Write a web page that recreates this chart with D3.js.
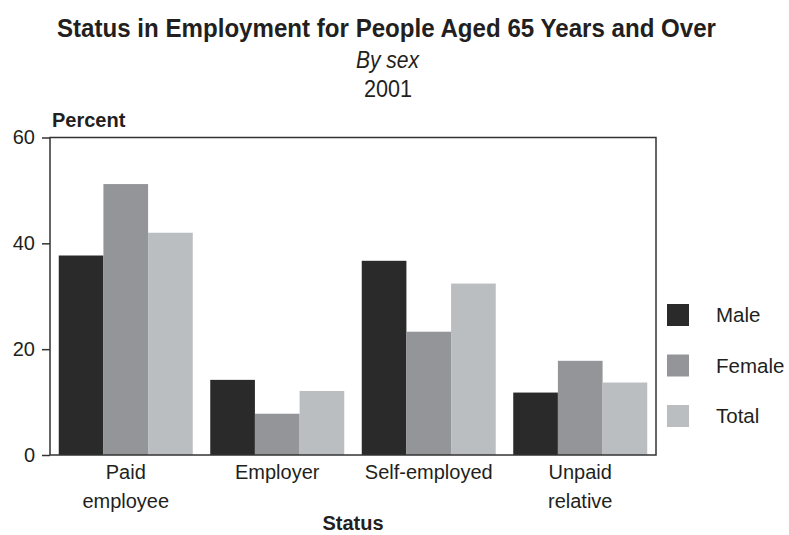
<!DOCTYPE html>
<html>
<head>
<meta charset="utf-8">
<script src="https://cdn.jsdelivr.net/npm/d3@7"></script>
<style>
  body { margin: 0; background: #fff; }
  text { font-family: "Liberation Sans", Arial, Helvetica, sans-serif; fill: #231f20; }
</style>
</head>
<body>
<div id="chart"></div>
<script>
// podatki
const categories = ["Paid employee", "Employer", "Self-employed", "Unpaid relative"];
const categoryLines = [["Paid", "employee"], ["Employer"], ["Self-employed"], ["Unpaid", "relative"]];
const seriesNames = ["Male", "Female", "Total"];
const male = [37.7, 14.2, 36.7, 11.8];
const female = [51.2, 7.8, 23.3, 17.8];
const total = [42.0, 12.1, 32.4, 13.7];
const yTicks = [0, 20, 40, 60];

const colors = ["#2b2a2b", "#939598", "#bbbec1"];

const W = 789, H = 535;
const margin = { top: 137.5, right: 133, bottom: 80, left: 50 };
const width = W - margin.left - margin.right;
const height = H - margin.top - margin.bottom;

const svg = d3.select("#chart").append("svg")
    .attr("width", W)
    .attr("height", H);

// naslovi
svg.append("text")
    .attr("x", 386.5).attr("y", 37)
    .attr("text-anchor", "middle")
    .attr("font-size", 26).attr("font-weight", "bold")
    .style("font-family", "'Liberation Sans Narrow', 'Arial Narrow', 'Liberation Sans', Arial, sans-serif")
    .attr("textLength", 659).attr("lengthAdjust", "spacingAndGlyphs")
    .text("Status in Employment for People Aged 65 Years and Over");

svg.append("text")
    .attr("x", 387.5).attr("y", 68)
    .attr("text-anchor", "middle")
    .attr("font-size", 23).attr("font-style", "italic")
    .style("font-family", "'Liberation Sans Narrow', 'Arial Narrow', 'Liberation Sans', Arial, sans-serif")
    .attr("textLength", 63).attr("lengthAdjust", "spacingAndGlyphs")
    .text("By sex");

svg.append("text")
    .attr("x", 388).attr("y", 97)
    .attr("text-anchor", "middle")
    .attr("font-size", 23)
    .style("font-family", "'Liberation Sans Narrow', 'Arial Narrow', 'Liberation Sans', Arial, sans-serif")
    .attr("textLength", 48).attr("lengthAdjust", "spacingAndGlyphs")
    .text("2001");

const g = svg.append("g")
    .attr("transform", `translate(${margin.left},${margin.top})`);

// skale
const x0 = d3.scaleBand()
    .domain(categories)
    .range([0, width])
    .paddingInner(0.1155)
    .paddingOuter(0.0578);

const x1 = d3.scaleBand()
    .domain(seriesNames)
    .range([0, x0.bandwidth()]);

const y = d3.scaleLinear()
    .domain([0, 60])
    .range([height, 0]);

const rows = categories.map((c, i) => ({ cat: c, values: [male[i], female[i], total[i]] }));

// stolpci
g.append("g")
    .selectAll("g")
    .data(rows)
    .enter()
    .append("g")
    .attr("transform", d => `translate(${x0(d.cat)},0)`)
    .selectAll("rect")
    .data(d => d.values.map((v, j) => ({ name: seriesNames[j], value: v, j: j })))
    .enter()
    .append("rect")
    .attr("x", d => x1(d.name))
    .attr("y", d => y(d.value))
    .attr("width", x1.bandwidth())
    .attr("height", d => height - y(d.value))
    .attr("fill", d => colors[d.j]);

// okvir
g.append("rect")
    .attr("x", 0).attr("y", 0)
    .attr("width", width).attr("height", height)
    .attr("fill", "none")
    .attr("stroke", "#333")
    .attr("stroke-width", 1.5);

// y os
const yAxis = g.append("g")
    .call(d3.axisLeft(y).tickValues(yTicks).tickSize(8).tickPadding(7));
yAxis.select(".domain").remove();
yAxis.selectAll(".tick line").attr("stroke", "#333").attr("stroke-width", 1.5);
yAxis.selectAll(".tick text")
    .attr("font-size", 20)
    .attr("fill", "#231f20")
    .style("font-family", "'Liberation Sans', Arial, sans-serif");

// x os z oznakami v več vrsticah
const xAxis = g.append("g")
    .attr("transform", `translate(0,${height})`);
xAxis.selectAll("text")
    .data(categories)
    .enter()
    .append("text")
    .attr("text-anchor", "middle")
    .attr("font-size", 20)
    .attr("x", d => x0(d) + x0.bandwidth() / 2)
    .attr("y", 24)
    .each(function(d, i) {
        const t = d3.select(this);
        categoryLines[i].forEach((line, k) => {
            t.append("tspan")
                .attr("x", x0(d) + x0.bandwidth() / 2)
                .attr("dy", k === 0 ? 0 : 29)
                .text(line);
        });
    });

// naslovi osi
svg.append("text")
    .attr("x", 52).attr("y", 127)
    .attr("font-size", 20).attr("font-weight", "bold")
    .text("Percent");

svg.append("text")
    .attr("x", margin.left + width / 2).attr("y", 530)
    .attr("text-anchor", "middle")
    .attr("font-size", 20).attr("font-weight", "bold")
    .text("Status");

// legenda
const legend = svg.append("g")
    .attr("transform", "translate(667,304)");
const items = legend.selectAll("g")
    .data(seriesNames)
    .enter()
    .append("g")
    .attr("transform", (d, i) => `translate(0,${i * 50.5})`);
items.append("rect")
    .attr("width", 22).attr("height", 22)
    .attr("fill", (d, i) => colors[i]);
items.append("text")
    .attr("x", 49).attr("y", 18)
    .attr("font-size", 20.5)
    .text(d => d);
</script>
</body>
</html>
